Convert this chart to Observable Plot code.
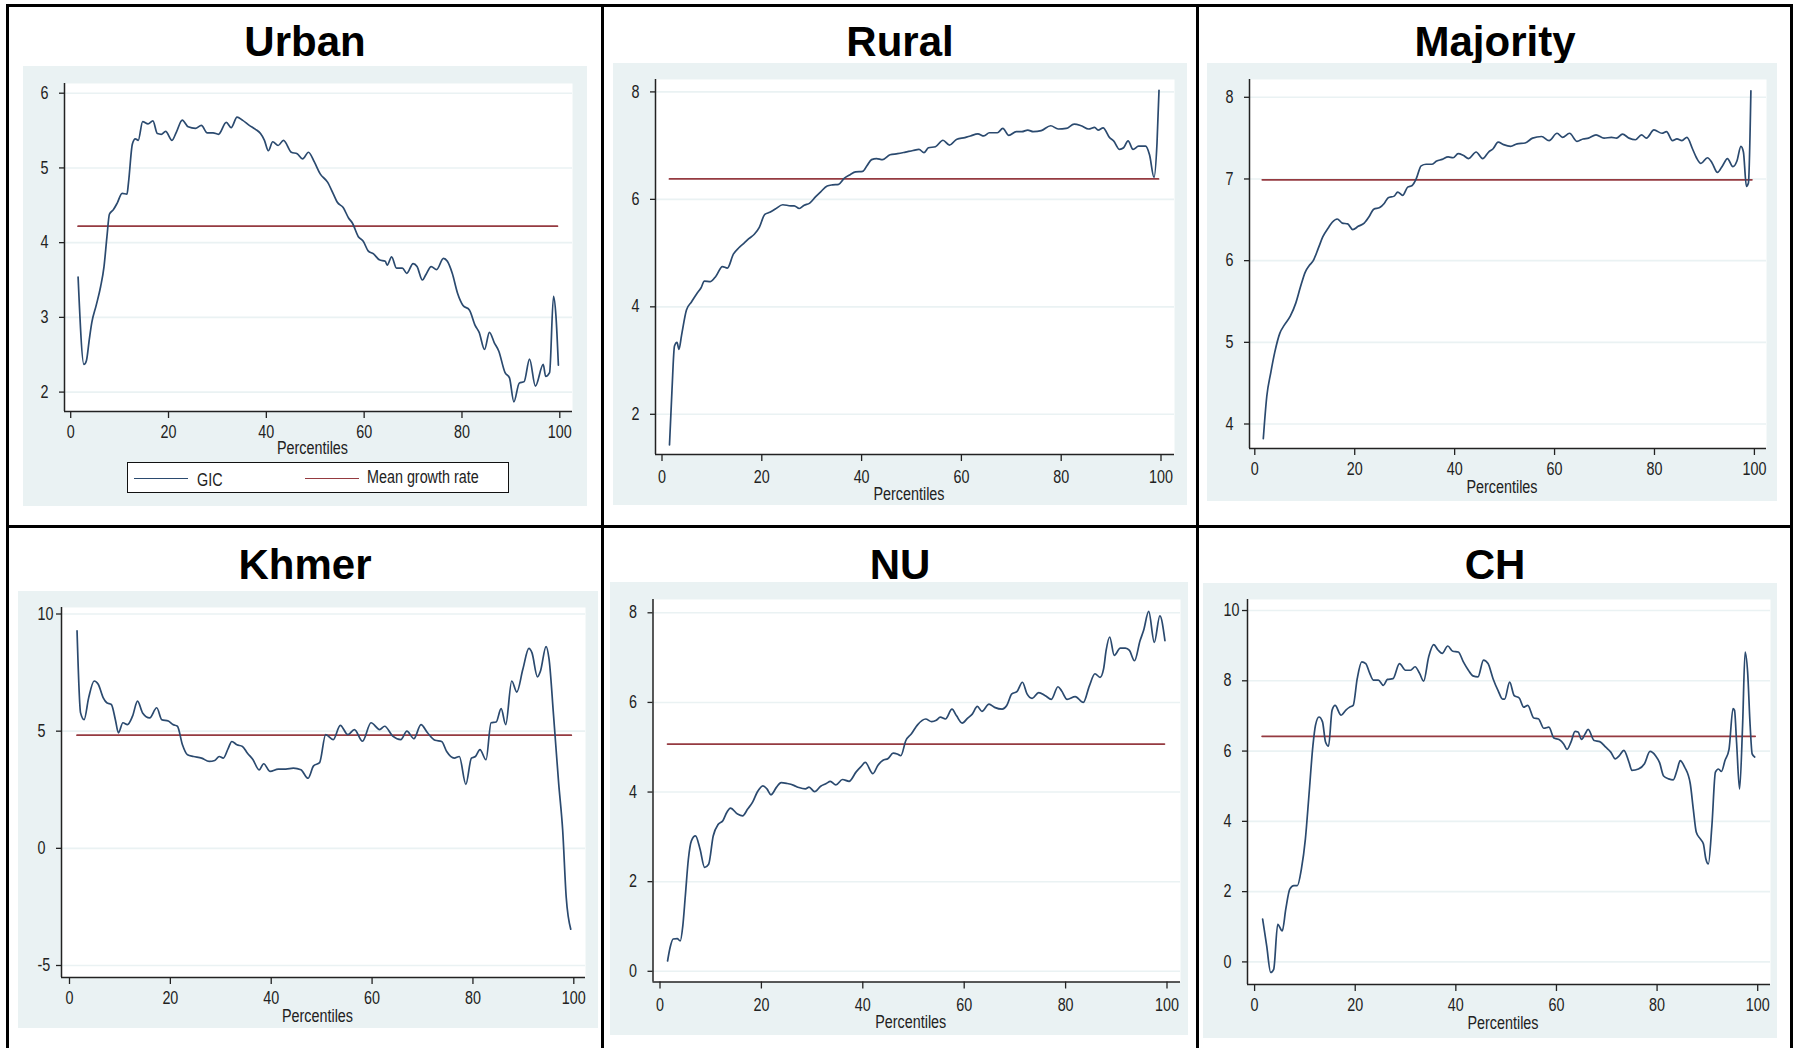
<!DOCTYPE html>
<html><head><meta charset="utf-8">
<script src="https://cdn.jsdelivr.net/npm/d3@7"></script>
<script src="https://cdn.jsdelivr.net/npm/@observablehq/plot@0.6"></script>
<style>
html,body{margin:0;padding:0;background:#fff;}
#root{position:relative;width:1799px;height:1048px;overflow:hidden;font-family:"Liberation Sans",Arial,sans-serif;}
.title{position:absolute;font-weight:bold;font-size:42px;line-height:42px;color:#000;text-align:center;}
.rule{position:absolute;background:#000;}
.panel{position:absolute;}
.legend{position:absolute;background:#fff;border:1.5px solid #111;box-sizing:border-box;font-family:"Liberation Sans",Arial,sans-serif;font-size:17.5px;color:#222;}
.legend .sw{position:absolute;height:1.6px;}
.legend .lb{position:absolute;line-height:18px;white-space:nowrap;transform:scaleX(0.82);transform-origin:0 50%;}
</style></head><body><div id="root"></div>
<script>
// ---------- data ----------
const titles = ["Urban", "Rural", "Majority", "Khmer", "NU", "CH"];
const xTicks = [0, 20, 40, 60, 80, 100];
const yTicksUrban = [2, 3, 4, 5, 6];
const yTicksRural = [2, 4, 6, 8];
const yTicksMajority = [4, 5, 6, 7, 8];
const yTicksKhmer = [-5, 0, 5, 10];
const yTicksNU = [0, 2, 4, 6, 8];
const yTicksCH = [0, 2, 4, 6, 8, 10];
const meanGrowth = [4.22, 6.38, 6.99, 4.83, 5.07, 6.42];
const meanSpan = [1, 99];
const legendLabels = ["GIC", "Mean growth rate"];
const xLabel = "Percentiles";

const gicUrban = [[1,3.54],[2.2,2.37],[2.7,2.42],[3.3,2.71],[3.8,2.93],[4.7,3.16],[5.6,3.41],[6.3,3.68],[6.9,4.08],[7.4,4.38],[8.2,4.44],[9,4.53],[10,4.66],[11,4.65],[11.3,4.8],[12.1,5.32],[12.7,5.39],[13.3,5.37],[14.2,5.62],[15.3,5.59],[16.3,5.63],[17.2,5.46],[18,5.45],[18.9,5.49],[20.2,5.37],[21.1,5.48],[22.3,5.64],[23.5,5.55],[25,5.53],[26.2,5.57],[27.4,5.47],[28.6,5.47],[29.7,5.45],[31.3,5.61],[32.3,5.54],[33.5,5.68],[34.6,5.64],[36,5.57],[37.2,5.52],[38.3,5.46],[39.1,5.37],[39.9,5.23],[40.8,5.35],[41.9,5.3],[43,5.37],[44.6,5.21],[45.8,5.19],[46.9,5.12],[48.1,5.21],[49.3,5.08],[50.5,4.92],[52,4.81],[53.2,4.65],[54,4.54],[55.2,4.47],[56.3,4.33],[57.1,4.26],[58.3,4.08],[59.3,4.02],[60.3,3.89],[61.4,3.85],[62.6,3.77],[63.8,3.75],[64.2,3.70],[65.1,3.81],[66.1,3.66],[67.3,3.66],[68.2,3.59],[69.5,3.72],[70.3,3.68],[71.4,3.50],[72.1,3.57],[73.2,3.68],[74.3,3.64],[75.7,3.79],[76.5,3.75],[77.5,3.59],[78.6,3.32],[79.7,3.16],[81,3.10],[82.2,2.89],[83,2.80],[84.1,2.57],[85.1,2.80],[86.1,2.66],[87,2.55],[88.3,2.26],[89.2,2.19],[90.1,1.87],[91.2,2.12],[92.2,2.14],[93.3,2.44],[94.5,2.08],[96.1,2.37],[96.6,2.21],[97.4,2.26],[98.2,3.28],[98.7,3.02],[99.2,2.36]];

const gicRural = [[1,1.43],[1.5,2.45],[2,3.27],[2.5,3.34],[2.9,3.21],[3.4,3.46],[4.4,3.94],[5.4,4.09],[6.5,4.25],[7.3,4.35],[8,4.48],[9.2,4.47],[10.3,4.57],[11.6,4.75],[12.6,4.72],[13.8,4.98],[14.9,5.10],[15.9,5.18],[16.9,5.27],[18,5.35],[19,5.48],[20.1,5.72],[21.1,5.76],[22.2,5.82],[23.7,5.90],[25.3,5.88],[26,5.88],[27,5.83],[28,5.89],[29.1,5.93],[30.3,6.05],[31.3,6.14],[32.6,6.25],[33.7,6.27],[34.9,6.28],[36,6.39],[37.2,6.46],[38.3,6.51],[39.7,6.52],[40.6,6.63],[41.5,6.74],[42.5,6.76],[43.7,6.74],[45.2,6.83],[46.7,6.85],[48.3,6.88],[49.8,6.91],[51,6.93],[52,6.87],[52.9,6.96],[54.3,6.98],[55.8,7.10],[57.1,7.01],[58.6,7.12],[60.2,7.15],[61.3,7.18],[62.8,7.22],[64,7.18],[65.1,7.24],[66.7,7.24],[67.8,7.32],[69,7.19],[70.5,7.26],[71.6,7.26],[72.8,7.29],[73.9,7.26],[75.5,7.28],[77.4,7.37],[78.9,7.31],[80.5,7.32],[82.1,7.40],[83.5,7.37],[85,7.31],[86.2,7.34],[86.9,7.29],[87.9,7.33],[89.2,7.15],[90,7.09],[91.2,6.93],[92,6.96],[92.9,7.09],[93.9,6.93],[95,6.99],[96.4,6.99],[97.2,6.83],[98.1,6.41],[98.7,7.05],[99.1,8.03]];

const gicMajority = [[1.2,3.82],[1.9,4.34],[2.7,4.63],[3.5,4.88],[4.5,5.11],[5.4,5.21],[6.6,5.32],[7.7,5.48],[8.6,5.67],[9.6,5.86],[10.4,5.94],[11.2,6.00],[12.2,6.15],[13.1,6.29],[14.3,6.41],[15,6.47],[16,6.51],[17,6.46],[18.1,6.45],[19.1,6.38],[20.2,6.42],[21.4,6.46],[22.4,6.54],[23.3,6.63],[24.5,6.65],[25.4,6.70],[26.2,6.77],[27.4,6.79],[28.1,6.84],[29.1,6.80],[30.1,6.90],[31,6.92],[31.8,7.00],[32.8,7.16],[33.8,7.18],[34.9,7.18],[35.9,7.22],[37,7.24],[38.2,7.27],[39.2,7.26],[40.2,7.31],[41.2,7.29],[42.3,7.25],[43.8,7.33],[45.1,7.25],[46.3,7.33],[47.2,7.37],[48.2,7.45],[49.3,7.42],[50.7,7.40],[52,7.43],[53.6,7.44],[55.1,7.50],[56.9,7.52],[58.4,7.47],[60,7.56],[61.1,7.51],[62.5,7.56],[64,7.46],[65.2,7.49],[66.3,7.50],[67.8,7.54],[69.4,7.50],[70.9,7.51],[71.9,7.50],[73.1,7.55],[74.4,7.50],[75.7,7.48],[76.9,7.54],[77.9,7.50],[79.4,7.60],[81,7.56],[81.9,7.58],[83.1,7.47],[84,7.49],[85,7.47],[86,7.51],[87.1,7.37],[87.9,7.26],[88.8,7.19],[90.1,7.26],[91,7.20],[92.1,7.08],[93.1,7.16],[94.1,7.25],[95.2,7.15],[96,7.22],[96.8,7.40],[97.3,7.33],[97.9,6.91],[98.3,6.95],[98.8,8.08]];

const gicKhmer = [[1,9.28],[1.7,5.78],[2.4,5.49],[3.3,6.42],[4.4,7.14],[5.2,7.00],[6.2,6.42],[6.9,6.21],[7.8,6.14],[8.6,5.49],[9.2,4.93],[10.1,5.36],[11,5.28],[12,5.64],[13,6.28],[14,5.78],[15.4,5.57],[16.8,6.00],[17.8,5.49],[19.1,5.43],[20,5.28],[20.9,5.21],[21.9,4.42],[22.9,3.99],[24.1,3.92],[25.7,3.85],[27.2,3.71],[28.3,3.75],[29.2,3.92],[30,3.85],[31,4.28],[31.7,4.56],[32.7,4.42],[33.8,4.35],[34.8,4.06],[35.9,3.78],[37.1,3.35],[38,3.61],[39.3,3.28],[40.9,3.38],[42.4,3.38],[43.9,3.42],[45.4,3.35],[46.8,2.99],[47.9,3.52],[49.1,3.66],[50.3,4.85],[51.8,4.64],[53.2,5.25],[54.7,4.85],[56,5.07],[57.6,4.57],[59.3,5.36],[61,5.07],[62,5.21],[63.6,4.79],[65.2,4.64],[66.4,5.00],[67.8,4.68],[69.2,5.28],[70.5,4.93],[72,4.61],[73.3,4.56],[74.3,4.13],[75.8,3.85],[76.8,3.92],[78.1,2.73],[79.2,3.85],[80,3.92],[80.9,4.21],[82.1,3.78],[83.1,5.36],[84.1,5.39],[85.1,5.96],[86,5.28],[87.2,7.14],[88.2,6.67],[89.4,7.64],[90.6,8.53],[91.2,8.35],[92.3,7.32],[92.9,7.57],[94,8.61],[94.6,8.07],[95.5,5.64],[96.5,2.78],[97.3,0.77],[98,-2.09],[98.9,-3.45]];

const gicNU = [[1,0.23],[1.5,0.53],[2.1,0.72],[2.9,0.73],[3.5,0.68],[4,1.01],[4.5,1.68],[5.1,2.50],[5.7,2.91],[6.5,3.02],[7.4,2.73],[8.3,2.32],[9.1,2.39],[10,3.02],[11,3.28],[11.9,3.36],[12.7,3.55],[13.4,3.64],[14.8,3.51],[15.8,3.47],[16.8,3.62],[17.8,3.78],[18.7,4.00],[19.8,4.14],[20.6,4.07],[21.4,3.94],[22.5,4.11],[23.4,4.21],[24.6,4.19],[25.9,4.15],[26.9,4.10],[28.2,4.07],[28.9,4.11],[30,4.01],[31.2,4.13],[32.3,4.19],[33.1,4.24],[34.2,4.16],[35.5,4.28],[36.8,4.24],[38.2,4.45],[39.1,4.56],[40,4.66],[41.5,4.41],[42.5,4.60],[43.5,4.71],[44.5,4.75],[45.5,4.87],[46.3,4.85],[47,4.81],[48,5.15],[49.1,5.30],[50.3,5.50],[51.9,5.63],[53.1,5.57],[54,5.60],[54.8,5.67],[55.8,5.63],[57.1,5.85],[58,5.70],[59.1,5.54],[60.2,5.65],[61.1,5.74],[62.1,5.91],[63,5.80],[64.4,5.96],[65.5,5.89],[67,5.85],[67.9,5.93],[68.9,6.19],[69.9,6.24],[71,6.45],[71.9,6.19],[72.9,6.09],[74.2,6.22],[75.5,6.15],[76.7,6.07],[78,6.35],[78.7,6.26],[79.8,6.07],[81.4,6.13],[83,6.00],[84.2,6.37],[85.3,6.64],[86.3,6.56],[87,6.75],[87.5,7.16],[88.2,7.46],[89.1,7.05],[90.3,7.21],[91.3,7.21],[92.1,7.16],[93.1,6.93],[94.2,7.38],[94.9,7.61],[95.9,8.03],[97,7.34],[98.1,7.93],[99.1,7.38]];

const gicCH = [[1.1,1.22],[1.9,0.46],[2.7,-0.30],[3.3,-0.21],[4.1,1.07],[5,0.88],[5.7,1.50],[6.5,2.07],[7.3,2.17],[8,2.17],[8.8,2.64],[9.6,3.50],[10.3,4.73],[11.1,6.16],[11.6,6.73],[12.3,6.97],[13,6.83],[13.6,6.26],[14.2,6.14],[14.9,7.16],[15.5,7.30],[16.7,7.02],[17.6,7.16],[18.4,7.25],[19.1,7.30],[19.9,8.06],[20.8,8.54],[21.6,8.49],[22.4,8.21],[23.1,8.02],[24.1,8.02],[25.1,7.87],[25.9,8.04],[27,8.06],[28.3,8.49],[29.5,8.30],[30.5,8.30],[31.4,8.40],[32.3,8.21],[33.1,7.99],[34.1,8.68],[35.1,9.03],[36,8.87],[36.8,8.78],[37.9,8.99],[38.9,8.84],[40,8.82],[41,8.54],[42,8.30],[42.9,8.14],[43.9,8.11],[45,8.59],[45.9,8.49],[46.9,8.06],[47.9,7.72],[48.8,7.48],[49.2,7.48],[50.2,7.96],[51.1,7.58],[52.1,7.51],[53,7.25],[53.8,7.30],[55,6.94],[55.9,6.92],[57,6.65],[58,6.68],[59,6.37],[60.1,6.32],[60.9,6.21],[61.6,6.05],[62.4,6.26],[63.2,6.56],[63.8,6.54],[64.5,6.33],[65.2,6.49],[65.8,6.62],[67,6.30],[68.1,6.27],[69.3,6.11],[70.3,5.97],[71.2,5.78],[72,5.87],[72.9,6.02],[73.9,5.69],[74.5,5.45],[75.8,5.49],[77,5.64],[78.1,5.99],[79.2,5.87],[80,5.67],[80.8,5.29],[81.8,5.21],[82.7,5.18],[83.5,5.47],[84.1,5.73],[85,5.54],[86.1,5.07],[86.7,4.35],[87.3,3.69],[88.1,3.50],[88.7,3.36],[89.2,2.93],[89.7,2.79],[90.4,3.88],[91.1,5.40],[91.7,5.49],[92.3,5.42],[93,5.73],[93.8,6.05],[94.6,7.21],[94.9,7.16],[95.3,6.26],[95.9,4.92],[96.5,6.73],[97,8.82],[97.5,8.25],[98,6.73],[98.4,5.92],[98.9,5.83]];

const gicSeries = [gicUrban, gicRural, gicMajority, gicKhmer, gicNU, gicCH];
const yTickSets = [yTicksUrban, yTicksRural, yTicksMajority, yTicksKhmer, yTicksNU, yTicksCH];

// ---------- layout (pixel geometry of the page) ----------
const layout = [
  {gray:[23,66,587,506],   plot:[64,83,572,411],     xc:[72.7,561.8],   yc:[[6,92.7],[2,391.6]],  tickPad:7,  labDy:37,   row:0, col:0, legend:true},
  {gray:[613,63,1187,505], plot:[655,79,1174,454],   xc:[664,1163],     yc:[[8,91.4],[2,413.8]],  tickPad:9,  labDy:40,   row:0, col:1},
  {gray:[1207,63,1777,501],plot:[1249,79,1766,448],  xc:[1256.8,1756.4],yc:[[8,96.8],[4,423.5]],  tickPad:7,  labDy:39,   row:0, col:2},
  {gray:[18,591,598,1028], plot:[61,607,585,977],    xc:[71.5,575.8],   yc:[[10,613.5],[-5,965]], tickPad:7,  labDy:39,   row:1, col:0},
  {gray:[610,582,1188,1035],plot:[652.5,599,1180,981.5],xc:[662,1169],  yc:[[8,612.3],[0,970.8]], tickPad:10, labDy:40.5, row:1, col:1},
  {gray:[1203,583,1777,1038],plot:[1247,599,1770,984],xc:[1256.6,1759.7],yc:[[8,680.3],[0,961.4]],tickPad:7, labDy:38.6, row:1, col:2}
];
const cellCenters = [305, 900, 1495];
const titleTops = [20.5, 543.5];
const GIC_COLOR = "#2b4a6f", MEAN_COLOR = "#953a40", BG = "#eaf2f3";
const FONT = '"Liberation Sans",Arial,sans-serif';
const FONT_PX = 17.5;
const NARROW_K = 0.82;

const root = document.getElementById("root");
function rule(x, y, w, h) {
  const d = document.createElement("div");
  d.className = "rule";
  Object.assign(d.style, {left: x + "px", top: y + "px", width: w + "px", height: h + "px"});
  root.appendChild(d);
}
rule(6, 4, 1787, 3);
rule(6, 4, 3, 1050);
rule(1790, 4, 3, 1050);
rule(601, 4, 3, 1050);
rule(1196, 4, 3, 1050);
rule(6, 525, 1787, 3);

titles.forEach((t, i) => {
  const L = layout[i];
  const d = document.createElement("div");
  d.className = "title";
  d.textContent = t;
  Object.assign(d.style, {left: (cellCenters[L.col] - 200) + "px", width: "400px", top: titleTops[L.row] + "px"});
  root.appendChild(d);
});

// the source uses a narrow face: squeeze each svg text to 82% of its natural width
const measureCtx = document.createElement("canvas").getContext("2d");
function condense(svg, k) {
  measureCtx.font = `${FONT_PX}px ${FONT}`;
  svg.querySelectorAll("text").forEach(t => {
    const w = measureCtx.measureText(t.textContent).width;
    t.setAttribute("textLength", (w * k).toFixed(2));
    t.setAttribute("lengthAdjust", "spacingAndGlyphs");
  });
}

layout.forEach((L, i) => {
  const [gx0, gy0, gx1, gy1] = L.gray;
  const [px0, py0, px1, py1] = L.plot;
  const [c0, c100] = L.xc;
  const xDom = [(px0 - c0) / (c100 - c0) * 100, (px1 - c0) / (c100 - c0) * 100];
  const [[v1, y1], [v2, y2]] = L.yc;
  const s = (v2 - v1) / (y2 - y1);
  const yDom = [v1 + (py1 - y1) * s, v1 + (py0 - y1) * s];
  const yt = yTickSets[i];
  const meanData = meanSpan.map(p => [p, meanGrowth[i]]);

  const svg = Plot.plot({
    width: gx1 - gx0,
    height: gy1 - gy0,
    marginLeft: px0 - gx0,
    marginRight: gx1 - px1,
    marginTop: py0 - gy0,
    marginBottom: gy1 - py1,
    x: {domain: xDom, label: null},
    y: {domain: yDom, label: null},
    style: {background: BG, fontFamily: FONT, fontSize: FONT_PX + "px", color: "#222", overflow: "visible"},
    marks: [
      Plot.frame({fill: "white", stroke: null}),
      Plot.gridY(yt, {stroke: BG, strokeOpacity: 1, strokeWidth: 1.6}),
      Plot.ruleX([xDom[0]], {stroke: "#222", strokeWidth: 1.5}),
      Plot.ruleY([yDom[0]], {stroke: "#222", strokeWidth: 1.5}),
      Plot.axisX(xTicks, {tickSize: 7, tickPadding: L.tickPad, dx: -2.5, tickFormat: d => String(d), stroke: "#222", fill: "#222", strokeWidth: 1.3, fontSize: FONT_PX}),
      Plot.axisY(yt, {tickSize: 5, tickPadding: 19, textAnchor: "start", tickFormat: d => String(d), stroke: "#222", fill: "#222", strokeWidth: 1.3, fontSize: FONT_PX}),
      Plot.line(meanData, {x: d => d[0], y: d => d[1], stroke: MEAN_COLOR, strokeWidth: 1.8}),
      Plot.line(gicSeries[i], {x: d => d[0], y: d => d[1], stroke: GIC_COLOR, strokeWidth: 1.7, curve: "monotone-x"}),
      Plot.text([xLabel], {text: d => d, frameAnchor: "bottom", lineAnchor: "middle", dy: L.labDy, dx: -6, fontSize: FONT_PX, fill: "#222"})
    ]
  });
  condense(svg, NARROW_K);
  const wrap = document.createElement("div");
  wrap.className = "panel";
  Object.assign(wrap.style, {left: gx0 + "px", top: gy0 + "px"});
  wrap.appendChild(svg);
  root.appendChild(wrap);

  if (L.legend) {
    const lg = document.createElement("div");
    lg.className = "legend";
    Object.assign(lg.style, {left: "127px", top: "462px", width: "382px", height: "31px"});
    const items = [[6, GIC_COLOR, legendLabels[0], 69, 7.5], [177, MEAN_COLOR, legendLabels[1], 239, 5]];
    items.forEach(([sx, col, lab, tx, ty]) => {
      const sw = document.createElement("div");
      sw.className = "sw";
      Object.assign(sw.style, {left: sx + "px", top: "14.5px", width: "54px", background: col});
      lg.appendChild(sw);
      const t = document.createElement("div");
      t.className = "lb";
      t.textContent = lab;
      Object.assign(t.style, {left: tx + "px", top: ty + "px"});
      lg.appendChild(t);
    });
    root.appendChild(lg);
  }
});
</script></body></html>
